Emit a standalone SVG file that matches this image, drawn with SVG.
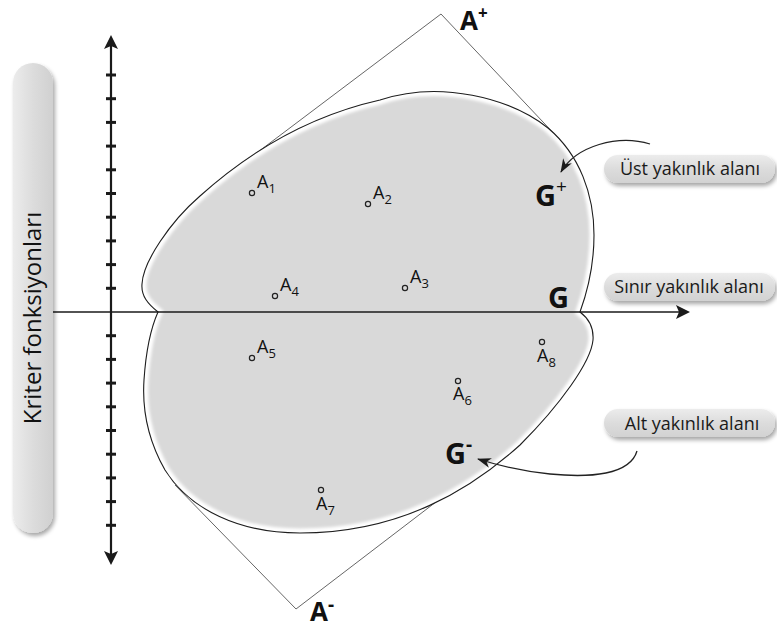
<svg xmlns="http://www.w3.org/2000/svg" width="777" height="629" viewBox="0 0 777 629">
<defs>
<style>
.lbl{font-family:"Open Sans","Noto Sans","DejaVu Sans",sans-serif;fill:#111;}
.pt{font-size:18px;}
.sub{font-size:13px;}
.big{font-family:"Open Sans","Noto Sans","DejaVu Sans",sans-serif;font-weight:bold;fill:#111;}
.sq{fill:none;stroke:#555;stroke-width:0.9;}
.dot{fill:none;stroke:#222;stroke-width:1.2;}
.pilltxt{font-family:"Open Sans","Noto Sans","DejaVu Sans",sans-serif;font-size:18px;fill:#1a1a1a;}
.arrowc{fill:none;stroke:#222;stroke-width:1.3;}
</style>
<linearGradient id="gh" x1="0" y1="0" x2="0" y2="1">
<stop offset="0" stop-color="#ececec"/>
<stop offset="0.5" stop-color="#dcdcdc"/>
<stop offset="1" stop-color="#d2d2d2"/>
</linearGradient>
<linearGradient id="gv" x1="0" y1="0" x2="1" y2="0">
<stop offset="0" stop-color="#ececec"/>
<stop offset="0.5" stop-color="#dcdcdc"/>
<stop offset="1" stop-color="#d0d0d0"/>
</linearGradient>
<filter id="sh" x="-20%" y="-30%" width="140%" height="170%">
<feGaussianBlur in="SourceAlpha" stdDeviation="2"/>
<feOffset dx="2" dy="3" result="o"/>
<feComponentTransfer><feFuncA type="linear" slope="0.35"/></feComponentTransfer>
<feMerge><feMergeNode/><feMergeNode in="SourceGraphic"/></feMerge>
</filter>
<filter id="blur2"><feGaussianBlur stdDeviation="1.8"/></filter>
<path id="blobpath" d="M158,312 C148,304 141,296 142,284 C143,262 170,222 200,196 C240,160 300,118 380,100 C440,80 510,98 548,128 C580,155 594,195 594,235 C594,265 588,290 580,312 C588,318 594,326 593,340 C591,362 560,405 520,445 C470,490 400,533 300,533 C240,533 190,510 165,470 C148,440 142,410 144,380 C146,350 150,330 158,312 Z"/>
<clipPath id="blobclip"><use href="#blobpath"/></clipPath>
<marker id="ah" viewBox="0 0 14 10" refX="13" refY="5" markerWidth="14" markerHeight="10" markerUnits="userSpaceOnUse" orient="auto">
<path d="M0,0 L14,5 L0,10 L4,5 Z" fill="#1a1a1a"/>
</marker>
</defs>
<rect width="777" height="629" fill="#ffffff"/>

<g id="envelope">
<polyline class="sq" points="250,158 441,14 560,140"/>
<polyline class="sq" points="175,485 296,609 500,453"/>
</g>

<g id="region">
<use href="#blobpath" fill="#d9d9d9"/>
<g clip-path="url(#blobclip)">
<use href="#blobpath" fill="none" stroke="#ffffff" stroke-width="9" filter="url(#blur2)"/>
</g>
<use href="#blobpath" fill="none" stroke="#1e1e1e" stroke-width="1.1"/>
</g>

<g id="axes">
<line x1="111" y1="45" x2="111" y2="555" stroke="#1a1a1a" stroke-width="2.2"/>
<path d="M111,35 L118,49 L111,46 L104,49 Z" fill="#1a1a1a"/>
<path d="M111,565 L118,551 L111,554 L104,551 Z" fill="#1a1a1a"/>
<g stroke="#1a1a1a" stroke-width="3">
<line x1="106" y1="75" x2="116" y2="75"/>
<line x1="106" y1="98.7" x2="116" y2="98.7"/>
<line x1="106" y1="122.4" x2="116" y2="122.4"/>
<line x1="106" y1="146.1" x2="116" y2="146.1"/>
<line x1="106" y1="169.8" x2="116" y2="169.8"/>
<line x1="106" y1="193.5" x2="116" y2="193.5"/>
<line x1="106" y1="217.2" x2="116" y2="217.2"/>
<line x1="106" y1="240.9" x2="116" y2="240.9"/>
<line x1="106" y1="264.6" x2="116" y2="264.6"/>
<line x1="106" y1="288.3" x2="116" y2="288.3"/>
<line x1="106" y1="335.7" x2="116" y2="335.7"/>
<line x1="106" y1="359.4" x2="116" y2="359.4"/>
<line x1="106" y1="383.1" x2="116" y2="383.1"/>
<line x1="106" y1="406.8" x2="116" y2="406.8"/>
<line x1="106" y1="430.5" x2="116" y2="430.5"/>
<line x1="106" y1="454.2" x2="116" y2="454.2"/>
<line x1="106" y1="477.9" x2="116" y2="477.9"/>
<line x1="106" y1="501.6" x2="116" y2="501.6"/>
<line x1="106" y1="525.3" x2="116" y2="525.3"/>
</g>
<line x1="52" y1="312" x2="680" y2="312" stroke="#1a1a1a" stroke-width="1.6"/>
<path d="M690,312 L676,305 L679,312 L676,319 Z" fill="#1a1a1a"/>
</g>

<g id="axis-label">
<rect x="13" y="63" width="40" height="470" rx="20" fill="url(#gv)" filter="url(#sh)"/>
<text class="lbl" transform="translate(41,318) rotate(-90)" text-anchor="middle" font-size="24">Kriter fonksiyonları</text>
</g>

<g id="A1"><circle class="dot" cx="252" cy="193" r="2.6"/><text class="lbl pt" x="257" y="188">A<tspan class="sub" dy="5">1</tspan></text></g>
<g id="A2"><circle class="dot" cx="368" cy="204" r="2.6"/><text class="lbl pt" x="373" y="199">A<tspan class="sub" dy="5">2</tspan></text></g>
<g id="A3"><circle class="dot" cx="405" cy="288" r="2.6"/><text class="lbl pt" x="410" y="283">A<tspan class="sub" dy="5">3</tspan></text></g>
<g id="A4"><circle class="dot" cx="275" cy="296" r="2.6"/><text class="lbl pt" x="280" y="291">A<tspan class="sub" dy="5">4</tspan></text></g>
<g id="A5"><circle class="dot" cx="252" cy="358" r="2.6"/><text class="lbl pt" x="257" y="353">A<tspan class="sub" dy="5">5</tspan></text></g>
<g id="A6"><circle class="dot" cx="458" cy="381" r="2.6"/><text class="lbl pt" x="453" y="400">A<tspan class="sub" dy="5">6</tspan></text></g>
<g id="A7"><circle class="dot" cx="321" cy="490" r="2.6"/><text class="lbl pt" x="316" y="510">A<tspan class="sub" dy="5">7</tspan></text></g>
<g id="A8"><circle class="dot" cx="542" cy="342" r="2.6"/><text class="lbl pt" x="537" y="362">A<tspan class="sub" dy="5">8</tspan></text></g>

<g id="Aplus"><text class="big" x="460" y="30" font-size="26">A<tspan font-size="17" dy="-11">+</tspan></text></g>
<g id="Aminus"><text class="big" x="310" y="621" font-size="26">A<tspan font-size="19" dy="-10">-</tspan></text></g>
<g id="Gplus"><text class="big" x="535" y="206" font-size="29">G<tspan font-size="19" font-weight="normal" dy="-13">+</tspan></text></g>
<g id="G"><text class="big" x="548" y="308" font-size="29">G</text></g>
<g id="Gminus"><text class="big" x="445" y="464" font-size="29">G<tspan font-size="19" dy="-13">-</tspan></text></g>

<g id="ust">
<rect x="604" y="155" width="171" height="28" rx="14" fill="url(#gh)" filter="url(#sh)"/>
<text class="pilltxt" x="690" y="175" text-anchor="middle">Üst yakınlık alanı</text>
</g>
<g id="sinir">
<rect x="604" y="273" width="171" height="28" rx="14" fill="url(#gh)" filter="url(#sh)"/>
<text class="pilltxt" x="689" y="293" text-anchor="middle">Sınır yakınlık alanı</text>
</g>
<g id="alt">
<rect x="604" y="409" width="171" height="28" rx="14" fill="url(#gh)" filter="url(#sh)"/>
<text class="pilltxt" x="692" y="430" text-anchor="middle">Alt yakınlık alanı</text>
</g>

<g id="connectors">
<path class="arrowc" d="M650,144 C618,134 576,146 561,172" marker-end="url(#ah)"/>
<path class="arrowc" d="M637,451 C630,475 590,478 550,474 C520,471 500,466 478,459" marker-end="url(#ah)"/>
</g>
</svg>
